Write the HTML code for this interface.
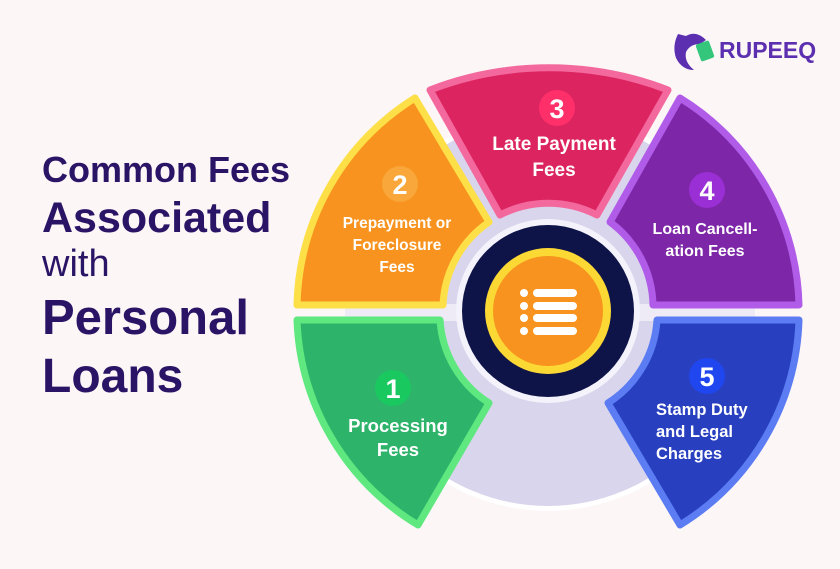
<!DOCTYPE html>
<html><head><meta charset="utf-8"><style>
html,body{margin:0;padding:0;background:#fcf6f6;}
body{width:840px;height:569px;overflow:hidden;position:relative;font-family:"Liberation Sans",sans-serif;}
.t{position:absolute;left:42px;color:#2a1466;font-weight:bold;white-space:nowrap;}
</style></head><body>
<div class="t" style="top:149px;font-size:36px;">Common Fees</div>
<div class="t" style="top:194px;font-size:43px;">Associated</div>
<div class="t" style="top:243px;font-size:38px;font-weight:normal;">with</div>
<div class="t" style="top:290px;font-size:49px;">Personal</div>
<div class="t" style="top:349px;font-size:48px;">Loans</div>

<svg width="840" height="569" style="position:absolute;left:0;top:0" font-family="Liberation Sans, sans-serif">
<path d="M678 34 Q672 46 676 58 Q682 70 694 70 Q684 62 686 52 Q690 44 700 44 L706 40 Q696 30 686 36 Z" fill="#5b2fb0"/>
<rect x="698" y="42" width="14" height="18" rx="2" fill="#34c77b" transform="rotate(-20 705 51)"/>
<text x="719" y="58" font-size="23" font-weight="bold" fill="#5b2fb0">RUPEEQ</text>

<circle cx="548" cy="311" r="200" fill="#ffffff"/>
<circle cx="548" cy="311" r="195" fill="#d9d5ec"/>
<rect x="345" y="304" width="410" height="17" fill="#eeeaf6"/>

<g stroke-width="7" stroke-linejoin="round">
<path d="M297 305 A250 250 0 0 1 415 98 L489 222 A106 106 0 0 0 443 305 Z" fill="#f7931e" stroke="#fde047"/>
<path d="M430 90 A330 330 0 0 1 668 90 L597 215 A106 106 0 0 0 500 215 Z" fill="#dc2560" stroke="#f3699d"/>
<path d="M680 98 A250 250 0 0 1 799 305 L653 305 A106 106 0 0 0 610 222 Z" fill="#7d27a8" stroke="#b05ce8"/>
<path d="M799 320 A250 250 0 0 1 680 525 L608 403 A106 106 0 0 0 657 320 Z" fill="#2840c0" stroke="#5b7cf2"/>
<path d="M418 525 A250 250 0 0 1 297 320 L440 320 A106 106 0 0 0 489 403 Z" fill="#2db36a" stroke="#5ee87f"/>
</g>

<circle cx="548" cy="311" r="92" fill="#f4f2fa"/>
<circle cx="548" cy="311" r="86" fill="#0e1448"/>
<circle cx="548" cy="311" r="63" fill="#fcd835"/>
<circle cx="548" cy="311" r="55" fill="#f7931e"/>
<g fill="#fff">
<circle cx="524" cy="293" r="4"/><circle cx="524" cy="306" r="4"/><circle cx="524" cy="318" r="4"/><circle cx="524" cy="331" r="4"/>
<rect x="533" y="289" width="44" height="8" rx="4"/><rect x="533" y="302" width="44" height="8" rx="4"/>
<rect x="533" y="314" width="44" height="8" rx="4"/><rect x="533" y="327" width="44" height="8" rx="4"/>
</g>

<g font-weight="bold" text-anchor="middle" fill="#fff">
<circle cx="557" cy="108" r="18" fill="#ff2f6a"/><text x="557" y="118" font-size="27">3</text>
<circle cx="400" cy="184" r="18" fill="#f9a63a"/><text x="400" y="194" font-size="27">2</text>
<circle cx="707" cy="190" r="18" fill="#9b2fd6"/><text x="707" y="200" font-size="27">4</text>
<circle cx="393" cy="388" r="18" fill="#19c85f"/><text x="393" y="398" font-size="27">1</text>
<circle cx="707" cy="376" r="18" fill="#2046f0"/><text x="707" y="386" font-size="27">5</text>

<text x="554" y="150" font-size="19">Late Payment</text>
<text x="554" y="176" font-size="19">Fees</text>
<text x="397" y="228" font-size="15.5">Prepayment or</text>
<text x="397" y="250" font-size="15.5">Foreclosure</text>
<text x="397" y="272" font-size="15.5">Fees</text>
<text x="705" y="234" font-size="16">Loan Cancell-</text>
<text x="705" y="256" font-size="16">ation Fees</text>
<text x="398" y="432" font-size="18.5">Processing</text>
<text x="398" y="456" font-size="18.5">Fees</text>
<g text-anchor="start"><text x="656" y="415" font-size="16.5">Stamp Duty</text>
<text x="656" y="437" font-size="16.5">and Legal</text>
<text x="656" y="459" font-size="16.5">Charges</text></g>
</g>
</svg>
</body></html>
